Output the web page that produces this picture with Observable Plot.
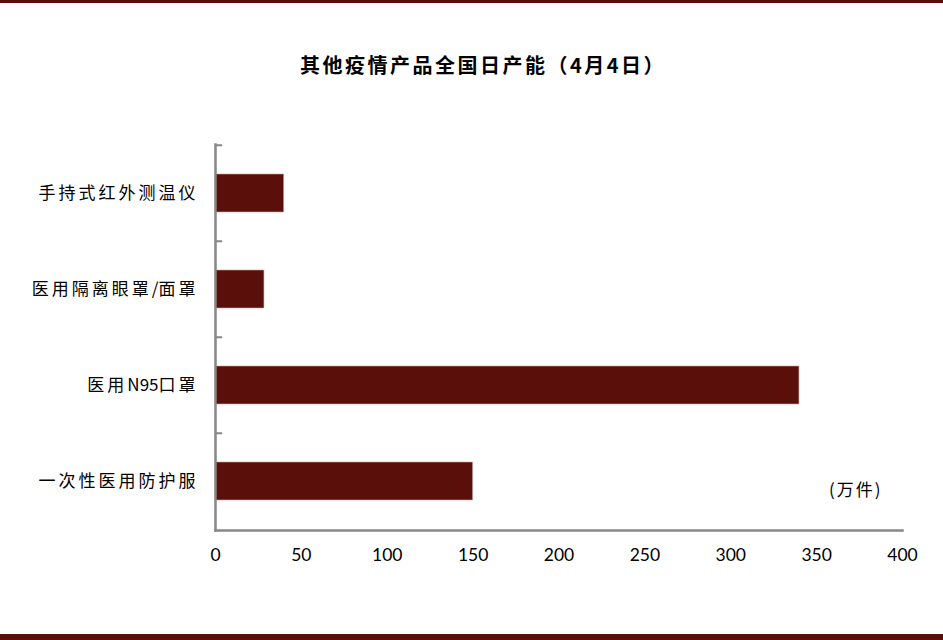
<!DOCTYPE html>
<html>
<head>
<meta charset="utf-8">
<script src="https://cdn.jsdelivr.net/npm/d3@7"></script>
<script src="https://cdn.jsdelivr.net/npm/@observablehq/plot@0.6"></script>
<style>
  html, body { margin: 0; padding: 0; background: #fff; }
  #wrap { position: relative; width: 943px; height: 640px; overflow: hidden; }
  .bar-top { position: absolute; left: 0; top: 0; width: 943px; height: 3px; background: #5a0f0b; }
  .bar-bot { position: absolute; left: 0; top: 634px; width: 943px; height: 6px; background: #5a0f0b; }
  #title { position: absolute; left: 0; width: 966px; top: 50px; text-align: center; letter-spacing: 2.5px;
           font-family: "Noto Sans CJK SC", sans-serif; font-weight: bold; font-size: 20px; color: #000; }
  #unit { position: absolute; left: 829px; top: 476px; font-family: "Noto Sans CJK SC", sans-serif;
          font-size: 17px; letter-spacing: 2px; color: #000; }
  #chart { position: absolute; left: 0; top: 0; }
</style>
</head>
<body>
<div id="wrap">
  <div id="chart"></div>
  <div class="bar-top"></div>
  <div class="bar-bot"></div>
  <div id="title">其他疫情产品全国日产能（4月4日）</div>
  <div id="unit">(万件)</div>
</div>
<script>
const categories = ["手持式红外测温仪", "医用隔离眼罩/面罩", "医用N95口罩", "一次性医用防护服"];
const values = [40, 28.5, 340, 150];
const xTicks = [0, 50, 100, 150, 200, 250, 300, 350, 400];

const data = categories.map((name, i) => ({name, value: values[i]}));

const W = 943, H = 640, mL = 215, mR = 41, mT = 144, mB = 110;
const padInner = 0.6, padOuter = 0.3;
const step = (H - mT - mB) / (categories.length - padInner + 2 * padOuter);

const chart = Plot.plot({
  width: W,
  height: H,
  marginLeft: mL,
  marginRight: mR,
  marginTop: mT,
  marginBottom: mB,
  style: {fontFamily: "Lato, 'Noto Sans CJK SC', sans-serif", fontSize: "17px", color: "#000", background: "transparent"},
  x: {domain: [0, 400], ticks: xTicks, tickSize: 0, tickPadding: 18, label: null, tickFormat: d => String(d)},
  y: {domain: categories, paddingInner: padInner, paddingOuter: padOuter, tickSize: 0, tickPadding: 17, label: null},
  marks: [
    Plot.barX(data, {x: "value", y: "name", fill: "#5a0f0b", stroke: "#c9a3a0", strokeWidth: 0.6}),
    Plot.ruleY(categories, {y: d => d, x1: 0, x2: 4.2, dy: -step / 2, stroke: "#878787", strokeWidth: 2}),
    Plot.frame({anchor: "left", stroke: "#878787", strokeWidth: 2.5}),
    Plot.frame({anchor: "bottom", stroke: "#878787", strokeWidth: 2.5}),
    Plot.axisY({tickSize: 0, tickPadding: 17, fontFamily: "'Noto Sans CJK SC', sans-serif", fontSize: 17}),
    Plot.axisX({ticks: xTicks, tickSize: 0, tickPadding: 18, fontSize: 17.5})
  ]
});

// widen spacing of CJK characters only in the y tick labels (as in the reference)
d3.select(chart).selectAll('g[aria-label="y-axis tick label"] text').each(function () {
  const txt = this.textContent;
  const sel = d3.select(this);
  sel.text(null);
  for (const ch of txt) {
    const cjk = /[\u3000-\u9fff\uff00-\uffef]/.test(ch);
    sel.append("tspan").text(ch).style("letter-spacing", cjk ? "3px" : "0px");
  }
});

document.getElementById("chart").appendChild(chart);
</script>
</body>
</html>
